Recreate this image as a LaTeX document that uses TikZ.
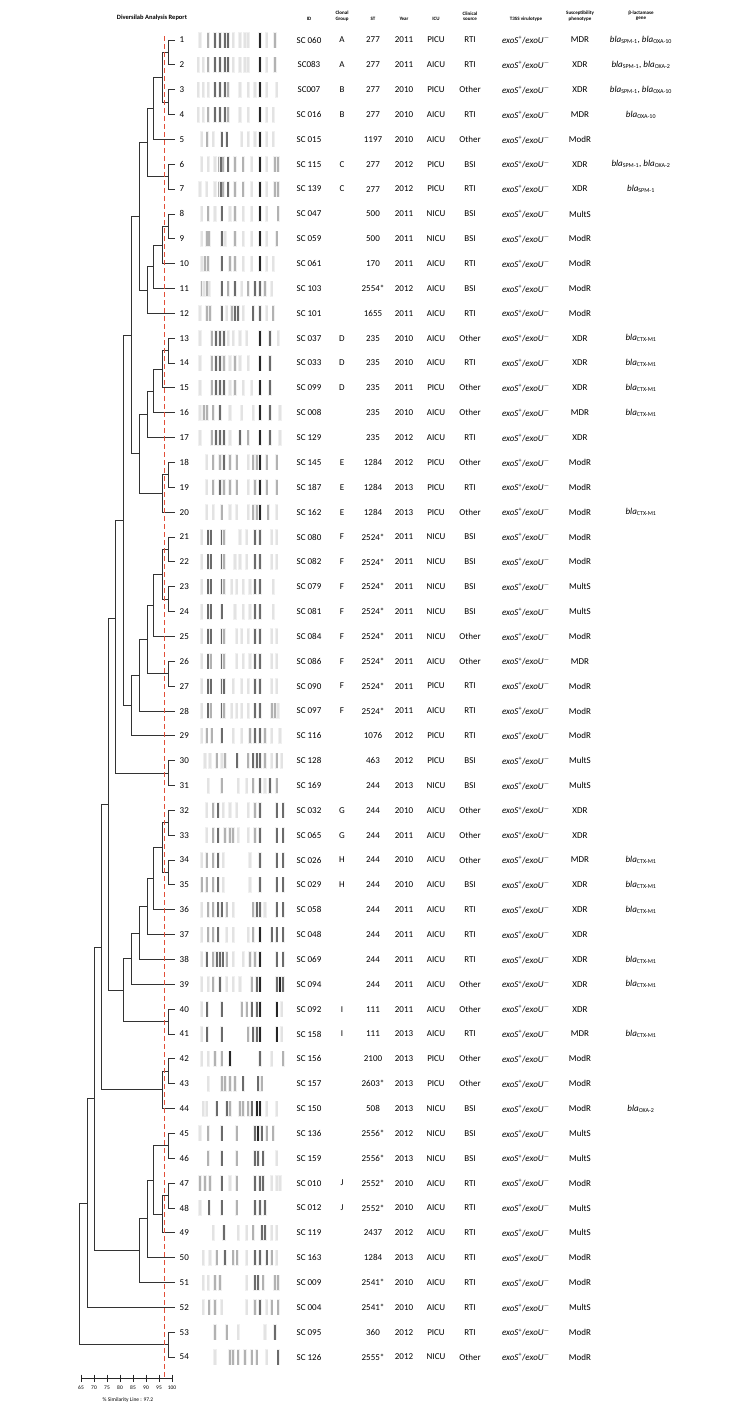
\documentclass[tikz,border=0pt]{standalone}
\usepackage{fontspec}
\setmainfont{Carlito}
\usetikzlibrary{calc}

\definecolor{simred}{RGB}{226,78,56}

\newcommand{\bla}[1]{\textit{bla}\textsubscript{#1}}
\newcommand{\exo}{\textit{exoS}\textsuperscript{+}/\textit{exoU}\textsuperscript{$-$}}
\newcommand{\gSOa}{\bla{SPM-1}, \bla{OXA-10}}
\newcommand{\gSOb}{\bla{SPM-1}, \bla{OXA-2}}
\newcommand{\gOXa}{\bla{OXA-10}}
\newcommand{\gOXb}{\bla{OXA-2}}
\newcommand{\gSPM}{\bla{SPM-1}}
\newcommand{\gCTX}{\bla{CTX-M1}}

% clade: name, height, upper child, lower child
\newcommand{\clade}[4]{%
  \path let \p1=(#3), \p2=(#4) in coordinate (#1) at (#2pt,{0.5*(\y1+\y2)});
  \draw[branch] (#3) -- (#3 -| #1) -- (#4 -| #1) -- (#4);}
% clade joined at a given row level
\newcommand{\cladeat}[5]{%
  \coordinate (#1) at (#2,#3);
  \draw[branch] (#4) -- (#4 -| #1) -- (#5 -| #1) -- (#5);}
% gel bands of one row
\newcommand{\bands}[2]{%
  \foreach \bx/\bk in {#2}{
    \fill[black!6] ({195+\bx/3-1.8},{40+(#1-1)*24.85-8}) rectangle ++(3.6,16);
    \fill[band \bk] ({195+\bx/3-1},{40+(#1-1)*24.85-7.5}) rectangle ++(2,15);}}

\tikzset{
  branch/.style={draw=black!80, line width=0.9pt},
  simline/.style={draw=simred, line width=1.2pt, dash pattern=on 5pt off 3pt},
  axis/.style={draw=black!85, line width=0.6pt},
  num/.style={font=\fontsize{9}{10}\selectfont, anchor=west, inner sep=0pt},
  cell/.style={font=\fontsize{9}{10}\selectfont, inner sep=0pt},
  head/.style={font=\bfseries\fontsize{5}{5.6}\selectfont, align=center, anchor=south, inner sep=0pt},
  title/.style={font=\bfseries\fontsize{6.5}{7}\selectfont, inner sep=0pt},
  scalelab/.style={font=\fontsize{5.5}{6}\selectfont, inner sep=0pt},
  band l/.style={fill=black!11},
  band m/.style={fill=black!30},
  band d/.style={fill=black!58},
  band k/.style={fill=black!85},
}

\begin{document}
\begin{tikzpicture}[x=1pt,y=-1pt]
\useasboundingbox (0,0) rectangle (733,1409);

% headers
\node[title] (title) at (152,18) {Diversilab Analysis Report};
\node[head] (hid) at (309,21) {ID};
\node[head] (hgrp) at (342,21) {Clonal\\Group};
\node[head] (hst) at (373,21) {ST};
\node[head] (hyr) at (404,21) {Year};
\node[head] (hicu) at (436,21) {ICU};
\node[head] (hsrc) at (470,21) {Clinical\\source};
\node[head] (ht3) at (526,21) {T3SS virulotype};
\node[head] (hsus) at (580,21) {Susceptibility\\phenotype};
\node[head] (hgene) at (641,21) {β-lactamase\\gene};

% leaves
\foreach \i in {1,...,54}{
  \pgfmathsetmacro{\ry}{40+(\i-1)*24.85}
  \coordinate (t\i) at (175,\ry);
  \node[num] (n\i) at (179.5,\ry) {\i};
}

% dendrogram
\clade{c1t2}{168}{t1}{t2}
\clade{c3t4}{168}{t3}{t4}
\clade{c1t4}{162.5}{c1t2}{c3t4}
\clade{c1t5}{153}{c1t4}{t5}
\clade{c6t7}{168}{t6}{t7}
\clade{c1t7}{147}{c1t5}{c6t7}
\clade{c8t9}{168}{t8}{t9}
\clade{c8t10}{162.5}{c8t9}{t10}
\clade{c8t11}{153}{c8t10}{t11}
\clade{c8t12}{147}{c8t11}{t12}
\clade{c1t12}{139}{c1t7}{c8t12}
\clade{c13t14}{168}{t13}{t14}
\clade{c13t15}{162.5}{c13t14}{t15}
\clade{c13t16}{153}{c13t15}{t16}
\clade{c13t17}{147}{c13t16}{t17}
\clade{c18t19}{168}{t18}{t19}
\clade{c18t20}{162.5}{c18t19}{t20}
\clade{c13t20}{139}{c13t17}{c18t20}
\clade{c1t20}{131}{c1t12}{c13t20}
\clade{c21t22}{168}{t21}{t22}
\clade{c23t24}{168}{t23}{t24}
\clade{c21t24}{162.5}{c21t22}{c23t24}
\clade{c21t25}{153}{c21t24}{t25}
\clade{c26t27}{168}{t26}{t27}
\clade{c21t27}{147}{c21t25}{c26t27}
\clade{c21t28}{139}{c21t27}{t28}
\clade{c21t29}{131}{c21t28}{t29}
\clade{c1t29}{123.5}{c1t20}{c21t29}
\clade{c30t31}{168}{t30}{t31}
\cladeat{c1t31}{115.5}{618}{c1t29}{c30t31}
\clade{c32t33}{168}{t32}{t33}
\clade{c34t35}{168}{t34}{t35}
\clade{c32t35}{162.5}{c32t33}{c34t35}
\clade{c32t36}{153}{c32t35}{t36}
\clade{c32t37}{147}{c32t36}{t37}
\clade{c32t38}{139}{c32t37}{t38}
\clade{c32t39}{131}{c32t38}{t39}
\clade{c40t41}{168}{t40}{t41}
\clade{c32t41}{123.5}{c32t39}{c40t41}
\clade{c1t41}{108.5}{c1t31}{c32t41}
\clade{c42t43}{168}{t42}{t43}
\clade{c42t44}{162.5}{c42t43}{t44}
\clade{c1t44}{101.5}{c1t41}{c42t44}
\clade{c45t46}{168}{t45}{t46}
\clade{c47t48}{168}{t47}{t48}
\clade{c47t49}{162.5}{c47t48}{t49}
\clade{c45t49}{153}{c45t46}{c47t49}
\clade{c45t50}{147}{c45t49}{t50}
\clade{c45t51}{139}{c45t50}{t51}
\clade{c1t51}{94}{c1t44}{c45t51}
\clade{c1t52}{87}{c1t51}{t52}
\clade{c53t54}{168}{t53}{t54}
\clade{root}{79}{c1t52}{c53t54}

% similarity line
\coordinate (simtop) at (164.7,36);
\coordinate (simbot) at (164.7,1378);
\draw[simline] (simtop) -- (simbot);

% scale
\coordinate (sc0) at (81,1378);
\coordinate (sc1) at (172,1378);
\draw[axis] (sc0) -- (sc1);
\foreach \s in {65,70,...,100}{
  \draw[axis] ({81+2.6*(\s-65)},1374.5) -- ++(0,7);
  \node[scalelab] at ({81+2.6*(\s-65)},1388) {\s};
}
\node[scalelab] (simlab) at (128,1400) {\% Similarity Line : 97.2};

% band patterns
\bands{1}{15/l,40/m,60/d,75/d,90/d,100/d,115/l,135/l,150/l,160/l,195/k,215/l,240/m}
\bands{2}{10/l,25/l,40/m,60/d,75/d,90/d,100/d,115/l,135/l,150/l,160/l,195/k,215/l,240/m}
\bands{3}{10/l,25/l,40/l,60/d,75/d,90/d,100/m,135/l,160/l,180/l,195/k,215/l,245/l}
\bands{4}{10/l,25/l,40/m,60/d,75/d,90/d,100/m,135/l,160/l,195/k,215/l,235/l}
\bands{5}{20/l,37/m,55/l,80/d,95/d,140/l,160/l,180/l,195/k,215/l,235/l}
\bands{6}{20/l,40/l,60/l,73/m,78/d,85/m,100/d,120/m,145/m,170/l,195/k,215/l,240/m,250/m}
\bands{7}{15/l,35/l,60/l,73/m,78/d,85/m,100/d,120/m,145/m,170/l,195/k,215/l,240/m,250/m}
\bands{8}{20/l,40/m,60/l,80/d,105/l,120/m,145/l,170/l,195/k,215/l,250/m}
\bands{9}{20/l,35/m,43/m,80/d,90/l,120/m,145/l,170/l,195/k,215/l,245/m}
\bands{10}{20/l,30/m,40/m,80/d,105/m,120/m,145/l,170/l,195/k,215/l,235/l}
\bands{11}{20/m,27/l,35/m,43/l,80/d,100/m,120/d,140/l,160/m,180/d,195/d,210/m,230/l}
\bands{12}{15/l,35/m,45/m,80/d,95/l,110/m,120/d,130/d,145/l,175/d,195/d,215/l,235/m}
\bands{13}{15/l,50/m,63/d,75/d,87/d,100/l,115/l,135/l,155/l,195/k,225/d,250/l}
\bands{14}{15/l,50/m,63/d,75/d,87/m,105/l,120/m,135/l,160/l,195/k,225/d}
\bands{15}{15/l,50/m,63/d,75/d,87/d,105/l,120/m,145/l,170/l,195/k,225/d}
\bands{16}{15/l,27/m,37/m,55/m,75/d,105/l,140/l,175/l,195/k,225/d,255/l}
\bands{17}{15/l,50/m,63/d,75/d,87/d,105/l,135/d,160/m,195/k,225/d,255/l}
\bands{18}{35/l,55/m,75/m,87/d,105/m,125/m,160/l,175/m,185/m,195/k,215/m,245/m}
\bands{19}{35/l,55/m,75/d,87/m,105/m,125/m,160/l,180/m,195/k,215/m,245/m}
\bands{20}{35/l,55/l,80/m,105/l,125/l,160/l,175/m,185/m,195/k,220/m,245/l}
\bands{21}{20/l,40/d,47/d,80/d,87/m,135/l,155/l,180/d,195/d,230/l,245/l}
\bands{22}{20/l,40/d,47/d,80/d,87/m,120/l,135/l,155/l,180/d,195/d,230/l,245/l}
\bands{23}{20/l,40/d,47/d,80/d,87/m,110/l,125/l,145/l,165/l,180/d,195/d,235/l}
\bands{24}{20/l,40/d,47/d,80/d,120/l,145/l,165/l,180/d,195/d,235/l}
\bands{25}{20/l,40/d,47/d,80/d,87/m,125/l,140/l,160/l,180/d,195/d,230/l,245/l}
\bands{26}{20/l,40/d,47/m,80/d,87/m,125/l,145/l,165/l,180/d,195/d,230/l,245/l}
\bands{27}{20/l,40/d,47/d,80/d,87/d,115/l,140/l,160/l,180/d,195/d,230/l,245/l}
\bands{28}{20/l,40/d,47/m,80/d,87/m,110/l,125/l,140/l,160/l,180/d,195/d,230/m,240/m,250/l}
\bands{29}{20/l,35/m,50/m,80/d,115/l,140/l,165/m,180/d,195/d,210/m,230/l,255/l}
\bands{30}{30/l,45/l,65/m,80/l,90/m,127/d,160/m,175/d,185/d,195/d,210/m,230/l,245/m,260/l}
\bands{31}{40/l,80/m,130/l,155/l,175/m,195/d,210/l,225/d,245/m}
\bands{32}{35/l,55/m,70/d,85/l,105/l,125/l,160/l,180/m,195/d,245/d,265/d}
\bands{33}{35/l,55/m,70/d,90/m,105/m,115/m,130/l,160/l,180/m,195/d,245/d,265/d}
\bands{34}{20/l,35/m,55/m,70/d,85/l,165/l,195/d,245/d,265/d}
\bands{35}{20/m,35/m,55/m,70/d,85/l,165/l,195/d,245/d,265/d}
\bands{36}{20/l,40/m,55/m,70/d,80/d,95/m,115/l,175/m,185/d,195/d,210/l,245/d,265/d}
\bands{37}{20/l,40/m,55/m,70/d,95/l,115/l,160/l,175/m,195/k,230/d,245/d,265/d}
\bands{38}{20/l,35/d,55/m,65/d,75/d,83/d,95/m,115/l,145/l,165/m,180/m,195/k,245/d,265/d}
\bands{39}{20/l,40/l,55/m,75/d,95/l,115/l,135/l,170/m,185/d,195/k,245/d,255/k,265/d}
\bands{40}{20/l,37/d,80/d,140/m,155/m,170/d,185/d,195/k,245/k,260/l}
\bands{41}{20/l,37/d,80/d,160/m,175/d,185/d,195/k,245/k,260/l}
\bands{42}{20/l,40/l,60/m,80/m,105/k,195/d,230/l,265/m}
\bands{43}{40/l,80/m,90/m,105/m,120/m,145/d,190/d,200/m}
\bands{44}{25/l,35/l,65/d,95/d,105/m,135/m,145/m,160/m,170/d,185/k,195/k,215/l,245/l}
\bands{45}{15/l,40/m,80/d,125/m,180/d,190/k,200/d,215/m,235/m}
\bands{46}{40/m,80/d,125/m,180/d,190/d,205/d,245/l}
\bands{47}{15/m,30/m,45/m,80/d,105/l,125/m,180/d,195/d,205/d,230/l,245/l,255/l}
\bands{48}{15/l,43/d,80/d,125/m,180/d,195/d,210/d}
\bands{49}{55/l,87/d,130/l,155/l,175/m,200/d,210/d,230/l,245/l}
\bands{50}{25/l,45/l,65/m,90/d,115/m,127/m,155/l,180/d,195/d,215/d,230/m,245/l}
\bands{51}{25/l,40/l,60/m,75/m,155/l,180/d,190/d,205/m,240/m,250/m}
\bands{52}{25/l,43/m,60/m,80/l,155/l,180/m,195/d,215/l,230/m,250/m}
\bands{53}{60/m,95/m,130/l,210/l,240/d}
\bands{54}{60/l,105/m,115/m,130/m,150/m,170/m,185/m,215/l,250/d}

% isolate table
\foreach \i/\id/\grp/\st/\yr/\icu/\src/\sus/\gene in {
  1/SC 060/A/277/2011/PICU/RTI/MDR/\gSOa,
  2/SC083/A/277/2011/AICU/RTI/XDR/\gSOb,
  3/SC007/B/277/2010/PICU/Other/XDR/\gSOa,
  4/SC 016/B/277/2010/AICU/RTI/MDR/\gOXa,
  5/SC 015/{}/1197/2010/AICU/Other/ModR/{},
  6/SC 115/C/277/2012/PICU/BSI/XDR/\gSOb,
  7/SC 139/C/277/2012/PICU/RTI/XDR/\gSPM,
  8/SC 047/{}/500/2011/NICU/BSI/MultS/{},
  9/SC 059/{}/500/2011/NICU/BSI/ModR/{},
  10/SC 061/{}/170/2011/AICU/RTI/ModR/{},
  11/SC 103/{}/2554*/2012/AICU/BSI/ModR/{},
  12/SC 101/{}/1655/2011/AICU/RTI/ModR/{},
  13/SC 037/D/235/2010/AICU/Other/XDR/\gCTX,
  14/SC 033/D/235/2010/AICU/RTI/XDR/\gCTX,
  15/SC 099/D/235/2011/PICU/Other/XDR/\gCTX,
  16/SC 008/{}/235/2010/AICU/Other/MDR/\gCTX,
  17/SC 129/{}/235/2012/AICU/RTI/XDR/{},
  18/SC 145/E/1284/2012/PICU/Other/ModR/{},
  19/SC 187/E/1284/2013/PICU/RTI/ModR/{},
  20/SC 162/E/1284/2013/PICU/Other/ModR/\gCTX,
  21/SC 080/F/2524*/2011/NICU/BSI/ModR/{},
  22/SC 082/F/2524*/2011/NICU/BSI/ModR/{},
  23/SC 079/F/2524*/2011/NICU/BSI/MultS/{},
  24/SC 081/F/2524*/2011/NICU/BSI/MultS/{},
  25/SC 084/F/2524*/2011/NICU/Other/ModR/{},
  26/SC 086/F/2524*/2011/AICU/Other/MDR/{},
  27/SC 090/F/2524*/2011/PICU/RTI/ModR/{},
  28/SC 097/F/2524*/2011/AICU/RTI/ModR/{},
  29/SC 116/{}/1076/2012/PICU/RTI/ModR/{},
  30/SC 128/{}/463/2012/PICU/BSI/MultS/{},
  31/SC 169/{}/244/2013/NICU/BSI/MultS/{},
  32/SC 032/G/244/2010/AICU/Other/XDR/{},
  33/SC 065/G/244/2011/AICU/Other/XDR/{},
  34/SC 026/H/244/2010/AICU/Other/MDR/\gCTX,
  35/SC 029/H/244/2010/AICU/BSI/XDR/\gCTX,
  36/SC 058/{}/244/2011/AICU/RTI/XDR/\gCTX,
  37/SC 048/{}/244/2011/AICU/RTI/XDR/{},
  38/SC 069/{}/244/2011/AICU/RTI/XDR/\gCTX,
  39/SC 094/{}/244/2011/AICU/Other/XDR/\gCTX,
  40/SC 092/I/111/2011/AICU/Other/XDR/{},
  41/SC 158/I/111/2013/AICU/RTI/MDR/\gCTX,
  42/SC 156/{}/2100/2013/PICU/Other/ModR/{},
  43/SC 157/{}/2603*/2013/PICU/Other/ModR/{},
  44/SC 150/{}/508/2013/NICU/BSI/ModR/\gOXb,
  45/SC 136/{}/2556*/2012/NICU/BSI/MultS/{},
  46/SC 159/{}/2556*/2013/NICU/BSI/MultS/{},
  47/SC 010/J/2552*/2010/AICU/RTI/ModR/{},
  48/SC 012/J/2552*/2010/AICU/RTI/MultS/{},
  49/SC 119/{}/2437/2012/AICU/RTI/MultS/{},
  50/SC 163/{}/1284/2013/AICU/RTI/ModR/{},
  51/SC 009/{}/2541*/2010/AICU/RTI/ModR/{},
  52/SC 004/{}/2541*/2010/AICU/RTI/MultS/{},
  53/SC 095/{}/360/2012/PICU/RTI/ModR/{},
  54/SC 126/{}/2555*/2012/NICU/Other/ModR/{}}{
  \pgfmathsetmacro{\ry}{40+(\i-1)*24.85}
  \node[cell] (id\i) at (309,\ry) {\id};
  \node[cell] (grp\i) at (342,\ry) {\grp};
  \node[cell] (st\i) at (373,\ry) {\st};
  \node[cell] (yr\i) at (404,\ry) {\yr};
  \node[cell] (icu\i) at (436,\ry) {\icu};
  \node[cell] (src\i) at (470,\ry) {\src};
  \node[cell] (t3\i) at (526,\ry) {\exo};
  \node[cell] (sus\i) at (580,\ry) {\sus};
  \node[cell] (gene\i) at (641,\ry) {\gene};
}
\end{tikzpicture}
\end{document}
